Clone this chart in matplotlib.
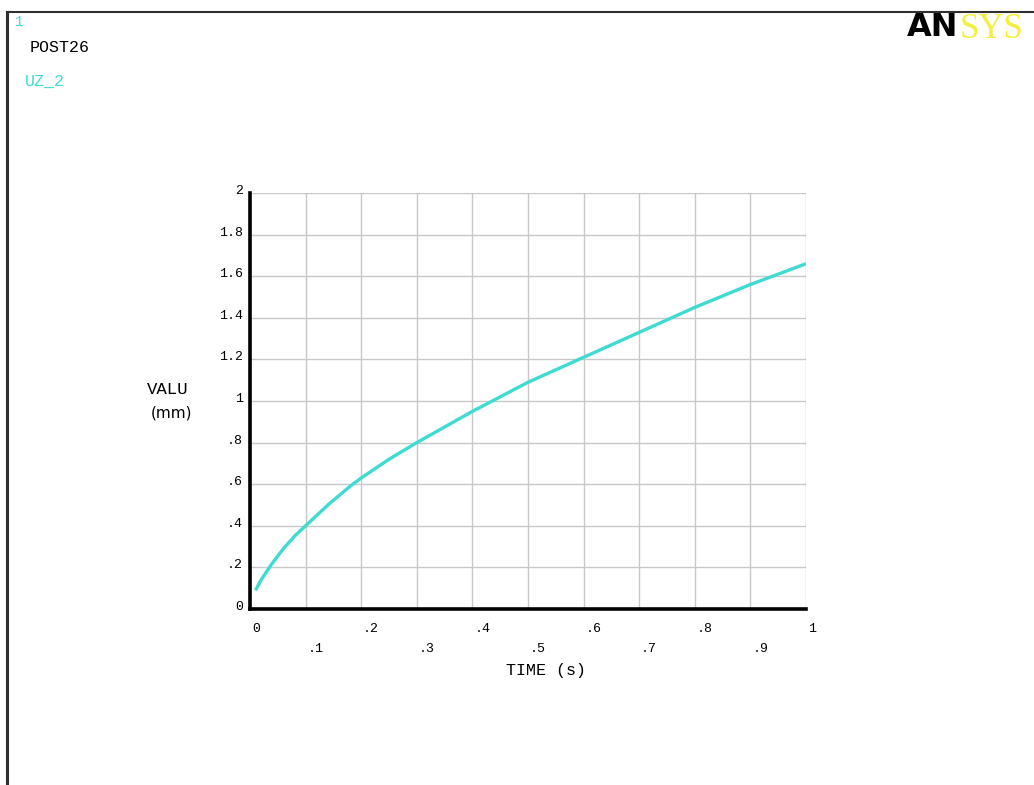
import numpy as np
import matplotlib.pyplot as plt
from matplotlib.lines import Line2D

# curve (TIME in s, UZ_2 in mm)
time_s = [0.01, 0.02, 0.03, 0.04, 0.05, 0.06, 0.07, 0.08, 0.09, 0.10,
          0.12, 0.14, 0.16, 0.18, 0.20, 0.225, 0.25, 0.275, 0.30, 0.35,
          0.40, 0.45, 0.50, 0.55, 0.60, 0.65, 0.70, 0.75, 0.80, 0.85,
          0.90, 0.95, 1.00]
uz_2 = [0.09, 0.14, 0.18, 0.22, 0.255, 0.29, 0.32, 0.35, 0.375, 0.40,
        0.45, 0.50, 0.545, 0.59, 0.63, 0.675, 0.72, 0.76, 0.80, 0.875,
        0.95, 1.02, 1.09, 1.15, 1.21, 1.27, 1.33, 1.39, 1.45, 1.505,
        1.56, 1.61, 1.66]

x_ticks = [0, 0.1, 0.2, 0.3, 0.4, 0.5, 0.6, 0.7, 0.8, 0.9, 1.0]
x_labels = ['0', '.1', '.2', '.3', '.4', '.5', '.6', '.7', '.8', '.9', '1']
y_ticks = [0, 0.2, 0.4, 0.6, 0.8, 1.0, 1.2, 1.4, 1.6, 1.8, 2.0]
y_labels = ['0', '.2', '.4', '.6', '.8', '1', '1.2', '1.4', '1.6', '1.8', '2']

W, H = 1034, 785
fig = plt.figure(figsize=(W / 100, H / 100), dpi=100)
fig.patch.set_facecolor('white')

def fx(px):
    return px / W

def fy(py):
    return 1 - py / H

mono = 'Liberation Mono'
cyan = '#3edbd3'

# frame of the graphics window
fig.add_artist(Line2D([fx(7), fx(7)], [fy(12), 0], color='#303030', lw=2.2))
fig.add_artist(Line2D([fx(7), 1], [fy(12), fy(12)], color='#303030', lw=1.5))

ax = fig.add_axes([fx(250), fy(609), fx(806) - fx(250), fy(193) - fy(609)])
ax.set_xlim(0, 1)
ax.set_ylim(0, 2)
ax.set_xticks(x_ticks)
ax.set_yticks(y_ticks)
ax.grid(True, color='#c8c8c8', lw=1)
ax.tick_params(length=0, labelbottom=False, labelleft=False)
for s in ['top', 'right']:
    ax.spines[s].set_visible(False)
for s in ['left', 'bottom']:
    ax.spines[s].set_linewidth(2.6)
    ax.spines[s].set_color('black')

ax.plot(time_s, uz_2, color=cyan, lw=2.4, solid_capstyle='butt')

# staggered x labels, left aligned at the tick
for i, (t, lab) in enumerate(zip(x_ticks, x_labels)):
    y_off = -20 if i % 2 == 0 else -40
    ax.annotate(lab, xy=(t, 0), xycoords='data', xytext=(2, y_off),
                textcoords='offset pixels', ha='left', va='center',
                fontsize=9.5, family=mono, color='black')

for t, lab in zip(y_ticks, y_labels):
    ax.annotate(lab, xy=(0, t), xycoords='data', xytext=(-7, 2),
                textcoords='offset pixels', ha='right', va='center',
                fontsize=9.5, family=mono, color='black')

fig.text(fx(546), fy(670), 'TIME (s)', ha='center', va='center',
         fontsize=12, family=mono, color='black')
fig.text(fx(168), fy(390), 'VALU', ha='center', va='center',
         fontsize=12.5, family=mono, color='black')
fig.text(fx(171), fy(413), '(mm)', ha='center', va='center',
         fontsize=11, family='DejaVu Sans', color='black')

# window annotations
fig.text(fx(15), fy(22), '1', ha='left', va='center',
         fontsize=10, family=mono, color=cyan)
fig.text(fx(30), fy(47), 'POST26', ha='left', va='center',
         fontsize=12, family=mono, color='black')
fig.text(fx(25), fy(81), 'UZ_2', ha='left', va='center',
         fontsize=12, family=mono, color=cyan)

# logo, cut by the right edge
fig.text(fx(907), fy(28), 'AN', ha='left', va='center', fontsize=23,
         family='DejaVu Sans', weight='heavy', color='black')
fig.text(fx(960), fy(29), 'SYS', ha='left', va='center', fontsize=25,
         family='Liberation Serif', color='#f2f03a')

fig.savefig('out.png', dpi=100, facecolor='white')
